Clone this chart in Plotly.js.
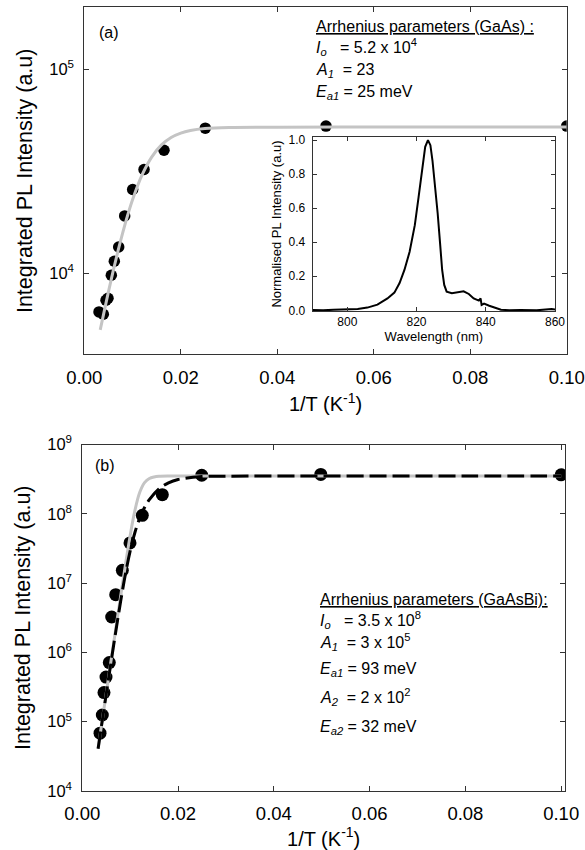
<!DOCTYPE html>
<html>
<head>
<meta charset="utf-8">
<script src="https://cdn.plot.ly/plotly-3.0.1.min.js"></script>
<style>html,body{margin:0;padding:0;background:#fff;}#chart{width:585px;height:850px;}</style>
</head>
<body>
<div id="chart"></div>
<script>
// ---------- Panel (a): GaAs ----------
const invT_a = [0.00305, 0.00394, 0.0045, 0.00491, 0.0056, 0.00622, 0.00713, 0.00837, 0.01003, 0.01238, 0.01652, 0.02508, 0.0501, 0.1];
const pl_a   = [6490, 6320, 7400, 7570, 9810, 11480, 13480, 19130, 25750, 32270, 40100, 51400, 52600, 52600];
const fitX_a = [0.0033, 0.004, 0.005, 0.006, 0.007, 0.008, 0.009, 0.010, 0.012, 0.014, 0.016, 0.018, 0.020, 0.022, 0.025, 0.030, 0.040, 0.060, 0.080, 0.100];
const fitY_a = [5300, 6330, 8140, 10330, 12940, 15960, 19330, 22960, 30440, 37220, 42560, 46260, 48620, 50050, 51170, 51800, 51990, 52000, 52000, 52000];

// ---------- Inset: PL spectrum ----------
const wavelength = [790, 793, 796, 800, 803, 805.8, 808.7, 811.6, 813.6, 815.1, 816.5, 818, 819.5, 820.6, 821.7, 822.5, 823.3, 824, 824.6, 825.3, 826.1, 826.8, 827.4, 828, 828.7, 830.2, 832.1, 833.6, 835.1, 836.5, 838, 838.3, 838.5, 838.8, 839.5, 841, 842.4, 844.4, 846.8, 850, 854.7, 857, 859, 860];
const normPL     = [0.002, 0.0, 0.003, 0.005, 0.008, 0.016, 0.033, 0.07, 0.104, 0.16, 0.237, 0.344, 0.50, 0.667, 0.843, 0.96, 1.0, 0.97, 0.88, 0.745, 0.57, 0.393, 0.237, 0.149, 0.11, 0.10, 0.108, 0.112, 0.096, 0.07, 0.057, 0.066, 0.07, 0.031, 0.039, 0.027, 0.016, 0.004, 0.0, 0.002, 0.0, 0.003, 0.008, 0.004];

// ---------- Panel (b): GaAsBi ----------
const invT_b = [0.0037, 0.00418, 0.00453, 0.00495, 0.00564, 0.00614, 0.00698, 0.00836, 0.00996, 0.01253, 0.01671, 0.02494, 0.0498, 0.1];
const pl_b   = [68200, 125000, 263000, 440000, 714000, 3.24e6, 6.8e6, 1.53e7, 3.8e7, 9.5e7, 1.89e8, 3.6e8, 3.7e8, 3.65e8];
const fit1X_b = [0.0033, 0.004, 0.005, 0.006, 0.007, 0.008, 0.009, 0.010, 0.011, 0.012, 0.013, 0.014, 0.015, 0.016, 0.018, 0.020, 0.025, 0.040, 0.060, 0.080, 0.100];
const fit1Y_b = [41100, 87400, 257000, 756000, 2.21e6, 6.43e6, 1.83e7, 4.88e7, 1.13e8, 2.04e8, 2.82e8, 3.23e8, 3.40e8, 3.47e8, 3.5e8, 3.5e8, 3.5e8, 3.5e8, 3.5e8, 3.5e8, 3.5e8];
const fit2X_b = [0.0033, 0.004, 0.005, 0.006, 0.007, 0.008, 0.009, 0.010, 0.011, 0.012, 0.013, 0.014, 0.016, 0.018, 0.020, 0.025, 0.030, 0.040, 0.060, 0.080, 0.100];
const fit2Y_b = [40800, 86500, 251000, 722000, 2.02e6, 5.41e6, 1.34e7, 2.91e7, 5.42e7, 8.68e7, 1.23e8, 1.60e8, 2.28e8, 2.80e8, 3.13e8, 3.44e8, 3.49e8, 3.5e8, 3.5e8, 3.5e8, 3.5e8];

// ---------- Tick labels ----------
const xTickVals = [0, 0.02, 0.04, 0.06, 0.08, 0.10];
const yTickVals_a = [1e4, 1e5];
const yTickText_a = ['10<sup>4</sup>', '10<sup>5</sup>'];
const yTickVals_b = [1e4, 1e5, 1e6, 1e7, 1e8, 1e9];
const yTickText_b = ['10<sup>4</sup>', '10<sup>5</sup>', '10<sup>6</sup>', '10<sup>7</sup>', '10<sup>8</sup>', '10<sup>9</sup>'];
const insetXTicks = [800, 820, 840, 860];
const insetYTicks = [0, 0.2, 0.4, 0.6, 0.8, 1.0];

const FONT = 'Liberation Sans, Arial, Helvetica, sans-serif';
const W = 585, H = 850;
const px = v => v / W;
const py = v => 1 - v / H;

const traces = [
  {x: invT_a, y: pl_a, xaxis: 'x', yaxis: 'y', mode: 'markers', type: 'scatter',
   marker: {color: '#000', size: 11.5}},
  {x: fitX_a, y: fitY_a, xaxis: 'x', yaxis: 'y', mode: 'lines', type: 'scatter',
   line: {color: '#c4c4c4', width: 3, shape: 'spline'}},
  {x: wavelength, y: normPL, xaxis: 'x3', yaxis: 'y3', mode: 'lines', type: 'scatter',
   line: {color: '#000', width: 2}},
  {x: invT_b, y: pl_b, xaxis: 'x2', yaxis: 'y2', mode: 'markers', type: 'scatter',
   marker: {color: '#000', size: 13}},
  {x: fit1X_b, y: fit1Y_b, xaxis: 'x2', yaxis: 'y2', mode: 'lines', type: 'scatter',
   line: {color: '#c4c4c4', width: 3, shape: 'spline'}},
  {x: fit2X_b, y: fit2Y_b, xaxis: 'x2', yaxis: 'y2', mode: 'lines', type: 'scatter',
   line: {color: '#000', width: 3, dash: '17px,6px', shape: 'spline'}}
];

const frame = {
  showline: true, linecolor: '#333', linewidth: 1, mirror: 'ticks',
  ticks: 'inside', ticklen: 5, tickcolor: '#333', tickwidth: 1,
  showgrid: false, zeroline: false
};

const layout = {
  width: W, height: H,
  margin: {l: 0, r: 0, t: 0, b: 0},
  paper_bgcolor: '#fff', plot_bgcolor: '#fff',
  showlegend: false,
  font: {family: FONT, color: '#000', size: 16},
  xaxis: Object.assign({}, frame, {
    domain: [px(84.3), px(566.7)], anchor: 'y', range: [0, 0.1],
    tickvals: xTickVals, tickformat: '.2f', tickfont: {size: 18.5}, ticklabelstandoff: 6,
    title: {text: '1/T (K<sup>-1</sup>)', font: {size: 20}, standoff: 10}
  }),
  yaxis: Object.assign({}, frame, {
    domain: [py(354.3), py(7.3)], anchor: 'x', type: 'log', range: [3.605, 5.302],
    tickvals: yTickVals_a, ticktext: yTickText_a, tickfont: {size: 16.5}, ticklabelstandoff: 6,
    title: {text: 'Integrated PL Intensity (a.u)', font: {size: 21.5}, standoff: 10}
  }),
  xaxis2: Object.assign({}, frame, {
    domain: [px(82.3), px(565)], anchor: 'y2', range: [0, 0.1008],
    tickvals: xTickVals, tickformat: '.2f', tickfont: {size: 18.5}, ticklabelstandoff: 6,
    title: {text: '1/T (K<sup>-1</sup>)', font: {size: 20}, standoff: 6}
  }),
  yaxis2: Object.assign({}, frame, {
    domain: [py(791), py(444.5)], anchor: 'x2', type: 'log', range: [4, 9],
    tickvals: yTickVals_b, ticktext: yTickText_b, tickfont: {size: 16.5}, ticklabelstandoff: 6,
    title: {text: 'Integrated PL Intensity (a.u)', font: {size: 21.5}, standoff: 10}
  }),
  xaxis3: Object.assign({}, frame, {
    domain: [px(312.7), px(555)], anchor: 'y3', range: [790, 860],
    tickvals: insetXTicks, tickfont: {size: 12}, ticklen: 4,
    title: {text: 'Wavelength (nm)', font: {size: 13}, standoff: 2}
  }),
  yaxis3: Object.assign({}, frame, {
    domain: [py(311), py(137)], anchor: 'x3', range: [-0.004, 1.018],
    tickvals: insetYTicks, tickformat: '.1f', tickfont: {size: 12}, ticklen: 4, ticklabelstandoff: 4,
    title: {text: 'Normalised PL Intensity (a.u)', font: {size: 13}, standoff: 4}
  }),
  annotations: [
    {text: '(a)', x: px(97), y: py(33), xref: 'paper', yref: 'paper', xanchor: 'left', yanchor: 'middle', showarrow: false, font: {size: 16}},
    {text: '(b)', x: px(93), y: py(465), xref: 'paper', yref: 'paper', xanchor: 'left', yanchor: 'middle', showarrow: false, font: {size: 16}},

    {text: '<u>Arrhenius parameters (GaAs) :</u>', x: px(314), y: py(26), xref: 'paper', yref: 'paper', xanchor: 'left', yanchor: 'middle', showarrow: false, font: {size: 16}},
    {text: '<i>I<sub>o</sub></i>\u00a0\u00a0\u00a0= 5.2 x 10<sup>4</sup>', x: px(314), y: py(47), xref: 'paper', yref: 'paper', xanchor: 'left', yanchor: 'middle', showarrow: false, font: {size: 16}},
    {text: '<i>A<sub>1</sub></i>\u00a0\u00a0= 23', x: px(314), y: py(71), xref: 'paper', yref: 'paper', xanchor: 'left', yanchor: 'middle', showarrow: false, font: {size: 16}},
    {text: '<i>E<sub>a1</sub></i> = 25 meV', x: px(314), y: py(93), xref: 'paper', yref: 'paper', xanchor: 'left', yanchor: 'middle', showarrow: false, font: {size: 16}},

    {text: '<u>Arrhenius parameters (GaAsBi):</u>', x: px(318), y: py(599), xref: 'paper', yref: 'paper', xanchor: 'left', yanchor: 'middle', showarrow: false, font: {size: 16}},
    {text: '<i>I<sub>o</sub></i>\u00a0\u00a0\u00a0= 3.5 x 10<sup>8</sup>', x: px(318), y: py(620), xref: 'paper', yref: 'paper', xanchor: 'left', yanchor: 'middle', showarrow: false, font: {size: 16}},
    {text: '<i>A<sub>1</sub></i>\u00a0\u00a0= 3 x 10<sup>5</sup>', x: px(318), y: py(642), xref: 'paper', yref: 'paper', xanchor: 'left', yanchor: 'middle', showarrow: false, font: {size: 16}},
    {text: '<i>E<sub>a1</sub></i> = 93 meV', x: px(318), y: py(669), xref: 'paper', yref: 'paper', xanchor: 'left', yanchor: 'middle', showarrow: false, font: {size: 16}},
    {text: '<i>A<sub>2</sub></i>\u00a0\u00a0= 2 x 10<sup>2</sup>', x: px(318), y: py(697), xref: 'paper', yref: 'paper', xanchor: 'left', yanchor: 'middle', showarrow: false, font: {size: 16}},
    {text: '<i>E<sub>a2</sub></i> = 32 meV', x: px(318), y: py(727), xref: 'paper', yref: 'paper', xanchor: 'left', yanchor: 'middle', showarrow: false, font: {size: 16}}
  ]
};

Plotly.newPlot('chart', traces, layout, {displayModeBar: false});
</script>
</body>
</html>
